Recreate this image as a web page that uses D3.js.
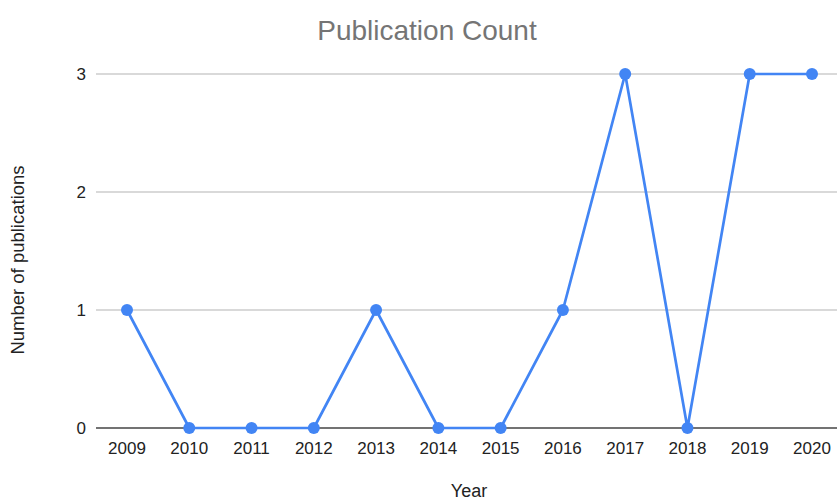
<!DOCTYPE html>
<html><head><meta charset="utf-8">
<script src="https://cdn.jsdelivr.net/npm/d3@7"></script>
<style>body{margin:0;background:#fff;}svg{display:block;font-family:"Liberation Sans",Arial,sans-serif;}</style>
</head><body>
<svg id="c" width="837" height="502"></svg>
<script>
const years = ["2009","2010","2011","2012","2013","2014","2015","2016","2017","2018","2019","2020"];
const counts = [1,0,0,0,1,0,0,1,3,0,3,3];
const yTicks = [0,1,2,3];

const svg = d3.select("#c");
const x = d3.scalePoint().domain(years).range([127, 812]);
const y = d3.scaleLinear().domain([0,3]).range([428, 74]);

svg.append("text").attr("x", 427).attr("y", 40).attr("text-anchor","middle")
  .attr("font-size", 28).attr("fill", "#757575").text("Publication Count");

svg.append("g").selectAll("line").data(yTicks.filter(d=>d>0)).join("line")
  .attr("x1", 96).attr("x2", 837).attr("y1", d=>y(d)).attr("y2", d=>y(d))
  .attr("stroke", "#cccccc").attr("stroke-width", 1.3);

svg.append("g").selectAll("text").data(yTicks).join("text")
  .attr("x", 86).attr("y", d=>y(d)+6).attr("text-anchor","end")
  .attr("font-size", 17).attr("fill","#222").text(d=>d);

svg.append("line").attr("x1",96).attr("x2",837).attr("y1",y(0)).attr("y2",y(0))
  .attr("stroke","#444").attr("stroke-width",1.3);

svg.append("g").selectAll("text").data(years).join("text")
  .attr("x", d=>x(d)).attr("y", 454).attr("text-anchor","middle")
  .attr("font-size", 17).attr("fill","#222").text(d=>d);

svg.append("text").attr("x", 469).attr("y", 497).attr("text-anchor","middle")
  .attr("font-size", 18).attr("fill","#222").text("Year");
svg.append("text").attr("transform","translate(24,260) rotate(-90)").attr("text-anchor","middle")
  .attr("font-size", 18.5).attr("fill","#222").text("Number of publications");

const data = years.map((yr,i)=>({yr, v: counts[i]}));
svg.append("path").datum(data)
  .attr("d", d3.line().x(d=>x(d.yr)).y(d=>y(d.v)))
  .attr("fill","none").attr("stroke","#4285f4").attr("stroke-width",2.7).attr("stroke-linejoin","round");
svg.append("g").selectAll("circle").data(data).join("circle")
  .attr("cx", d=>x(d.yr)).attr("cy", d=>y(d.v)).attr("r", 6).attr("fill","#4285f4");
</script>
</body></html>
